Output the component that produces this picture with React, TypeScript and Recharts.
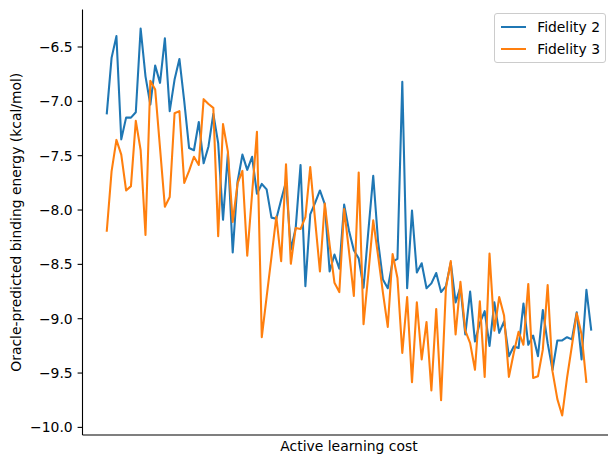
import React from "react";
import { LineChart, Line, XAxis, YAxis, Legend } from "recharts";

// Oracle-predicted binding energy (kcal/mol) per active learning step
const fidelity2 = [
  -7.12, -6.6, -6.4, -7.35, -7.15, -7.15, -7.1, -6.33, -6.77, -7.03,
  -6.67, -6.83, -6.42, -7.09, -6.8, -6.61, -7.0, -7.43, -7.45, -7.19,
  -7.57, -7.415, -7.115, -7.385, -8.09, -7.48, -8.39, -7.74, -7.49, -7.63,
  -7.51, -7.85, -7.76, -7.81, -8.07, -8.08, -7.905, -7.74, -8.365, -8.165,
  -7.585, -8.7, -8.04, -7.935, -7.82, -7.945, -8.565, -8.41, -8.54, -7.95,
  -8.19, -8.37, -8.445, -8.715, -8.19, -7.685, -8.29, -8.64, -8.72, -8.475,
  -8.45, -6.82, -8.72, -8.005, -8.575, -8.49, -8.72, -8.675, -8.58, -8.755,
  -8.7, -8.485, -8.85, -8.71, -9.145, -8.75, -9.21, -9.04, -8.93, -9.25,
  -8.85, -9.13, -9.025, -9.345, -9.255, -9.27, -8.86, -9.24, -9.155, -9.345,
  -8.92, -9.225, -9.47, -9.2, -9.2, -9.17, -9.19, -8.94, -9.375, -8.735,
  -9.11,
];

const fidelity3 = [
  -8.2, -7.645, -7.355, -7.49, -7.82, -7.78, -7.18, -7.45, -8.23, -6.81,
  -6.89, -7.43, -7.97, -7.88, -7.11, -7.09, -7.75, -7.64, -7.51, -7.585,
  -6.98, -7.025, -7.06, -8.24, -7.21, -7.46, -8.11, -7.755, -7.64, -8.42,
  -7.85, -7.28, -9.17, -8.8, -8.43, -8.06, -8.47, -7.58, -8.495, -8.165,
  -8.175, -8.065, -7.605, -8.09, -8.565, -7.94, -8.32, -8.67, -8.755, -7.99,
  -8.38, -8.79, -7.655, -9.05, -8.58, -8.095, -8.42, -8.76, -9.075, -8.405,
  -8.625, -9.315, -8.8, -9.585, -8.85, -9.375, -9.03, -9.66, -8.91, -9.75,
  -8.72, -8.47, -9.145, -8.66, -9.11, -9.225, -9.47, -8.84, -9.535, -8.4,
  -9.11, -8.8, -8.97, -9.535, -9.315, -9.12, -9.24, -8.68, -9.545, -9.53,
  -9.285, -8.69, -9.485, -9.74, -9.89, -9.545, -9.25, -8.95, -9.145, -9.59,
];

const yTicks = [-10, -9.5, -9, -8.5, -8, -7.5, -7, -6.5];

const BLUE = "#1f77b4";
const ORANGE = "#ff7f0e";
const FONT = "DejaVu Sans, sans-serif";
const FS = 13.9;

const seriesInfo = [
  { key: "f2", name: "Fidelity 2", color: BLUE },
  { key: "f3", name: "Fidelity 3", color: ORANGE },
];

const fmt = (v: number) => v.toFixed(1).replace("-", "\u2212");

function LegendBox() {
  return (
    <div
      style={{
        boxSizing: "border-box",
        width: 112,
        padding: "4px 5px 5px 6px",
        border: "1px solid #cccccc",
        borderRadius: 3,
        background: "rgba(255,255,255,0.8)",
        fontFamily: FONT,
        fontSize: FS,
        color: "#000",
      }}
    >
      {seriesInfo.map((s, idx) => (
        <div
          key={s.key}
          style={{
            display: "flex",
            alignItems: "center",
            height: 17,
            marginTop: idx === 0 ? 0 : 5,
            whiteSpace: "nowrap",
          }}
        >
          <span
            style={{
              display: "inline-block",
              width: 27,
              height: 2,
              background: s.color,
              marginRight: 11,
            }}
          />
          <span>{s.name}</span>
        </div>
      ))}
    </div>
  );
}

export default function App() {
  const data = fidelity2.map((v, i) => ({
    i,
    f2: v,
    f3: i < fidelity3.length ? fidelity3[i] : null,
  }));

  return (
    <div
      style={{
        position: "absolute",
        left: 0,
        top: 0,
        width: 608,
        height: 455,
        overflow: "hidden",
        background: "#fff",
        fontFamily: FONT,
      }}
    >
      <LineChart
        width={616}
        height={455}
        data={data}
        margin={{ top: 9.5, right: 0.5, bottom: 0, left: 0 }}
      >
        <XAxis
          dataKey="i"
          type="number"
          domain={[-5, 105]}
          allowDataOverflow
          tick={false}
          tickLine={false}
          height={20}
          axisLine={{ stroke: "#000", strokeWidth: 1.1 }}
          label={{
            value: "Active learning cost",
            position: "insideBottom",
            offset: 4,
            style: { fill: "#000", fontSize: FS, fontFamily: FONT },
          }}
        />
        <XAxis
          xAxisId="top"
          orientation="top"
          dataKey="i"
          type="number"
          domain={[-5, 105]}
          tick={false}
          tickLine={false}
          height={0}
          axisLine={{ stroke: "#000", strokeWidth: 1.1 }}
        />
        <YAxis
          type="number"
          domain={[-10.07, -6.155]}
          allowDataOverflow
          ticks={yTicks}
          tickFormatter={fmt}
          width={82.5}
          tickSize={4.9}
          tickMargin={4.9}
          tick={{ fill: "#000", fontSize: FS, fontFamily: FONT }}
          tickLine={{ stroke: "#000", strokeWidth: 1.1 }}
          axisLine={{ stroke: "#000", strokeWidth: 1.1 }}
          label={{
            value: "Oracle-predicted binding energy (kcal/mol)",
            angle: -90,
            position: "insideLeft",
            offset: 16,
            style: {
              textAnchor: "middle",
              fill: "#000",
              fontSize: FS,
              fontFamily: FONT,
            },
          }}
        />
        <YAxis
          yAxisId="right"
          orientation="right"
          type="number"
          domain={[-10.07, -6.155]}
          tick={false}
          tickLine={false}
          width={0}
          axisLine={{ stroke: "#000", strokeWidth: 1.1 }}
        />
        <Legend
          layout="vertical"
          align="center"
          verticalAlign="middle"
          wrapperStyle={{ left: 494, top: 13, width: 112 }}
          content={() => <LegendBox />}
        />
        <Line
          dataKey="f2"
          name="Fidelity 2"
          stroke={BLUE}
          strokeWidth={2.08}
          dot={false}
          activeDot={false}
          isAnimationActive={false}
          strokeLinejoin="round"
        />
        <Line
          dataKey="f3"
          name="Fidelity 3"
          stroke={ORANGE}
          strokeWidth={2.08}
          dot={false}
          activeDot={false}
          isAnimationActive={false}
          strokeLinejoin="round"
        />
      </LineChart>
    </div>
  );
}
